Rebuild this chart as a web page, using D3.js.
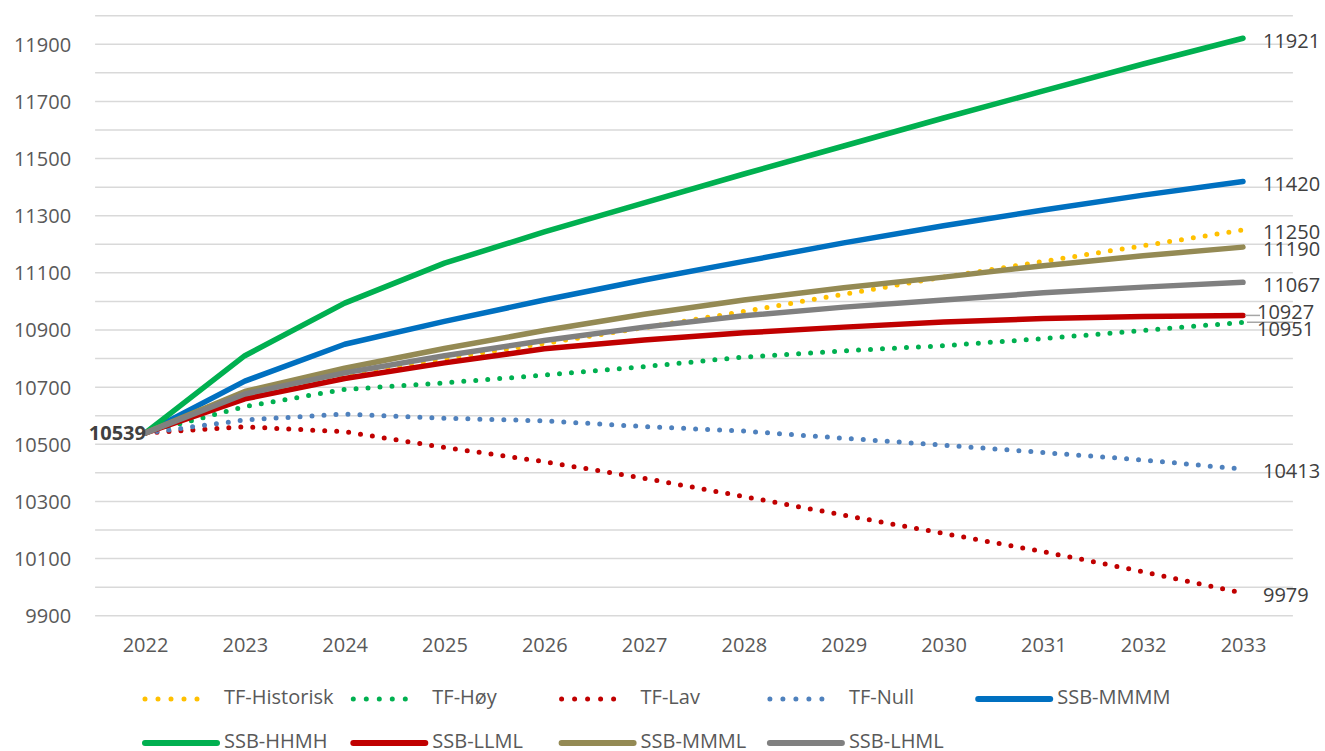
<!DOCTYPE html>
<html lang="no">
<head>
<meta charset="UTF-8">
<title>Befolkningsframskriving</title>
<script src="https://cdn.jsdelivr.net/npm/d3@7"></script>
<style>
    body { margin: 0; background: #fff; }
    text { font-family: "Open Sans", "Noto Sans", sans-serif; fill: #595959; }
</style>
</head>
<body>
<svg width="1325" height="751"></svg>
<script>
// år på x-aksen
var years = [2022, 2023, 2024, 2025, 2026, 2027, 2028, 2029, 2030, 2031, 2032, 2033];

// seriene (lest av figuren)
var tfHistorisk = [10539, 10662, 10745, 10800, 10853, 10908, 10965, 11025, 11085, 11140, 11195, 11250];
var tfHoy       = [10539, 10632, 10692, 10715, 10742, 10772, 10805, 10827, 10845, 10870, 10898, 10927];
var tfLav       = [10539, 10561, 10544, 10489, 10439, 10381, 10317, 10252, 10188, 10124, 10054, 9979];
var tfNull      = [10539, 10585, 10606, 10591, 10582, 10562, 10546, 10521, 10497, 10471, 10445, 10413];
var ssbMMMM     = [10539, 10721, 10850, 10930, 11005, 11075, 11140, 11205, 11265, 11320, 11372, 11420];
var ssbHHMH     = [10539, 10810, 10994, 11134, 11243, 11345, 11446, 11544, 11642, 11737, 11831, 11921];
var ssbLLML     = [10539, 10659, 10730, 10785, 10834, 10865, 10890, 10910, 10928, 10940, 10947, 10951];
var ssbMMML     = [10539, 10685, 10766, 10835, 10898, 10955, 11005, 11048, 11085, 11125, 11160, 11190];
var ssbLHML     = [10539, 10676, 10750, 10810, 10863, 10910, 10950, 10980, 11005, 11030, 11050, 11067];

var seriesNames = ["TF-Historisk", "TF-Høy", "TF-Lav", "TF-Null", "SSB-MMMM", "SSB-HHMH", "SSB-LLML", "SSB-MMML", "SSB-LHML"];
var seriesData = [tfHistorisk, tfHoy, tfLav, tfNull, ssbMMMM, ssbHHMH, ssbLLML, ssbMMML, ssbLHML];
var seriesColors = ["#FFC000", "#00B050", "#C00000", "#4F81BD", "#0070C0", "#00B050", "#C00000", "#948A54", "#808080"];
var seriesDotted = [true, true, true, true, false, false, false, false, false];

var yTicks = [9900, 10100, 10300, 10500, 10700, 10900, 11100, 11300, 11500, 11700, 11900];

var svg = d3.select("svg");

var x = d3.scalePoint().domain(years).range([145, 1243]);
var y = d3.scaleLinear().domain([9900, 12000]).range([615.7, 15.7]);
var step = x.step();
var plotLeft = x(years[0]) - step / 2;
var plotRight = x(years[years.length - 1]) + step / 2;

// rutenett hver 100
svg.append("g").selectAll("line")
    .data(d3.range(9900, 12001, 100))
    .enter().append("line")
    .attr("x1", plotLeft).attr("x2", plotRight)
    .attr("y1", function(d){ return y(d); })
    .attr("y2", function(d){ return y(d); })
    .style("stroke", "#d9d9d9")
    .style("stroke-width", 1.5);

// y-akse
var yAxis = svg.append("g")
    .attr("transform", "translate(" + (plotLeft - 24) + ",0)")
    .call(d3.axisLeft(y).tickValues(yTicks).tickSize(0).tickFormat(d3.format("d")));
yAxis.select(".domain").remove();
yAxis.selectAll("text")
    .attr("x", 0).attr("dy", "0.35em")
    .style("font-size", "20px")
    .style("font-family", "'Open Sans', sans-serif")
    .style("fill", "#595959");

// x-akse
var xAxis = svg.append("g")
    .attr("transform", "translate(0," + 645 + ")")
    .call(d3.axisBottom(x).tickSize(0).tickFormat(d3.format("d")));
xAxis.select(".domain").remove();
xAxis.selectAll("text")
    .attr("y", 0).attr("dy", "0.35em")
    .style("font-size", "20px")
    .style("font-family", "'Open Sans', sans-serif")
    .style("fill", "#595959");

// linjer
var line = d3.line()
    .x(function(d, i){ return x(years[i]); })
    .y(function(d){ return y(d); });

svg.append("g").selectAll("path")
    .data(seriesData)
    .enter().append("path")
    .attr("d", line)
    .style("fill", "none")
    .style("stroke", function(d, i){ return seriesColors[i]; })
    .style("stroke-width", function(d, i){ return seriesDotted[i] ? 5 : 5.5; })
    .style("stroke-linecap", "round")
    .style("stroke-linejoin", "round")
    .style("stroke-dasharray", function(d, i){ return seriesDotted[i] ? "0 12" : null; });

// startetikett
svg.append("text")
    .attr("x", x(years[0]) + 1)
    .attr("y", y(ssbLHML[0]) + 2)
    .attr("text-anchor", "end")
    .attr("dominant-baseline", "middle")
    .style("font-size", "20px")
    .style("font-weight", "bold")
    .style("fill", "#404040")
    .text(ssbLHML[0]);

// sluttetiketter (TF-Høy og SSB-LLML flyttet for å ikke overlappe)
var labelShift = { "TF-Høy": -9, "SSB-LLML": 15 };
var labelX = { "TF-Høy": 1257, "SSB-LLML": 1257 };

// ledelinjer
svg.append("line")
    .attr("x1", x(2033) + 2).attr("x2", 1260)
    .attr("y1", y(ssbLLML[11])).attr("y2", y(ssbLLML[11]))
    .style("stroke", "#a6a6a6").style("stroke-width", 1.5);
svg.append("line")
    .attr("x1", x(2033) + 4).attr("x2", plotRight)
    .attr("y1", y(tfHoy[11])).attr("y2", y(tfHoy[11]))
    .style("stroke", "#a6a6a6").style("stroke-width", 1.5);

svg.append("g").selectAll("text")
    .data(seriesData)
    .enter().append("text")
    .attr("x", function(d, i){ return labelX[seriesNames[i]] || 1263; })
    .attr("y", function(d, i){
        var v = d[d.length - 1];
        return y(v) + (labelShift[seriesNames[i]] !== undefined ? labelShift[seriesNames[i]] : 4);
    })
    .attr("dominant-baseline", "middle")
    .style("font-size", "20px")
    .style("fill", "#404040")
    .text(function(d){ return d[d.length - 1]; });

// forklaring
var legend = svg.append("g").selectAll("g")
    .data(seriesNames)
    .enter().append("g")
    .attr("transform", function(d, i){
        var col = i < 5 ? i : i - 5;
        var row = i < 5 ? 0 : 1;
        return "translate(" + (145 + col * 208.3) + "," + (699 + row * 44) + ")";
    });

legend.append("line")
    .attr("x1", 0).attr("x2", function(d, i){ return seriesDotted[i] ? 65 : 72; })
    .attr("y1", 0).attr("y2", 0)
    .style("stroke", function(d, i){ return seriesColors[i]; })
    .style("stroke-width", function(d, i){ return seriesDotted[i] ? 5 : 6; })
    .style("stroke-linecap", "round")
    .style("stroke-dasharray", function(d, i){ return seriesDotted[i] ? "0 13" : null; });

legend.append("text")
    .attr("x", 79)
    .attr("y", 0)
    .attr("dominant-baseline", "middle")
    .style("font-size", "20px")
    .text(function(d){ return d; });
</script>
</body>
</html>
